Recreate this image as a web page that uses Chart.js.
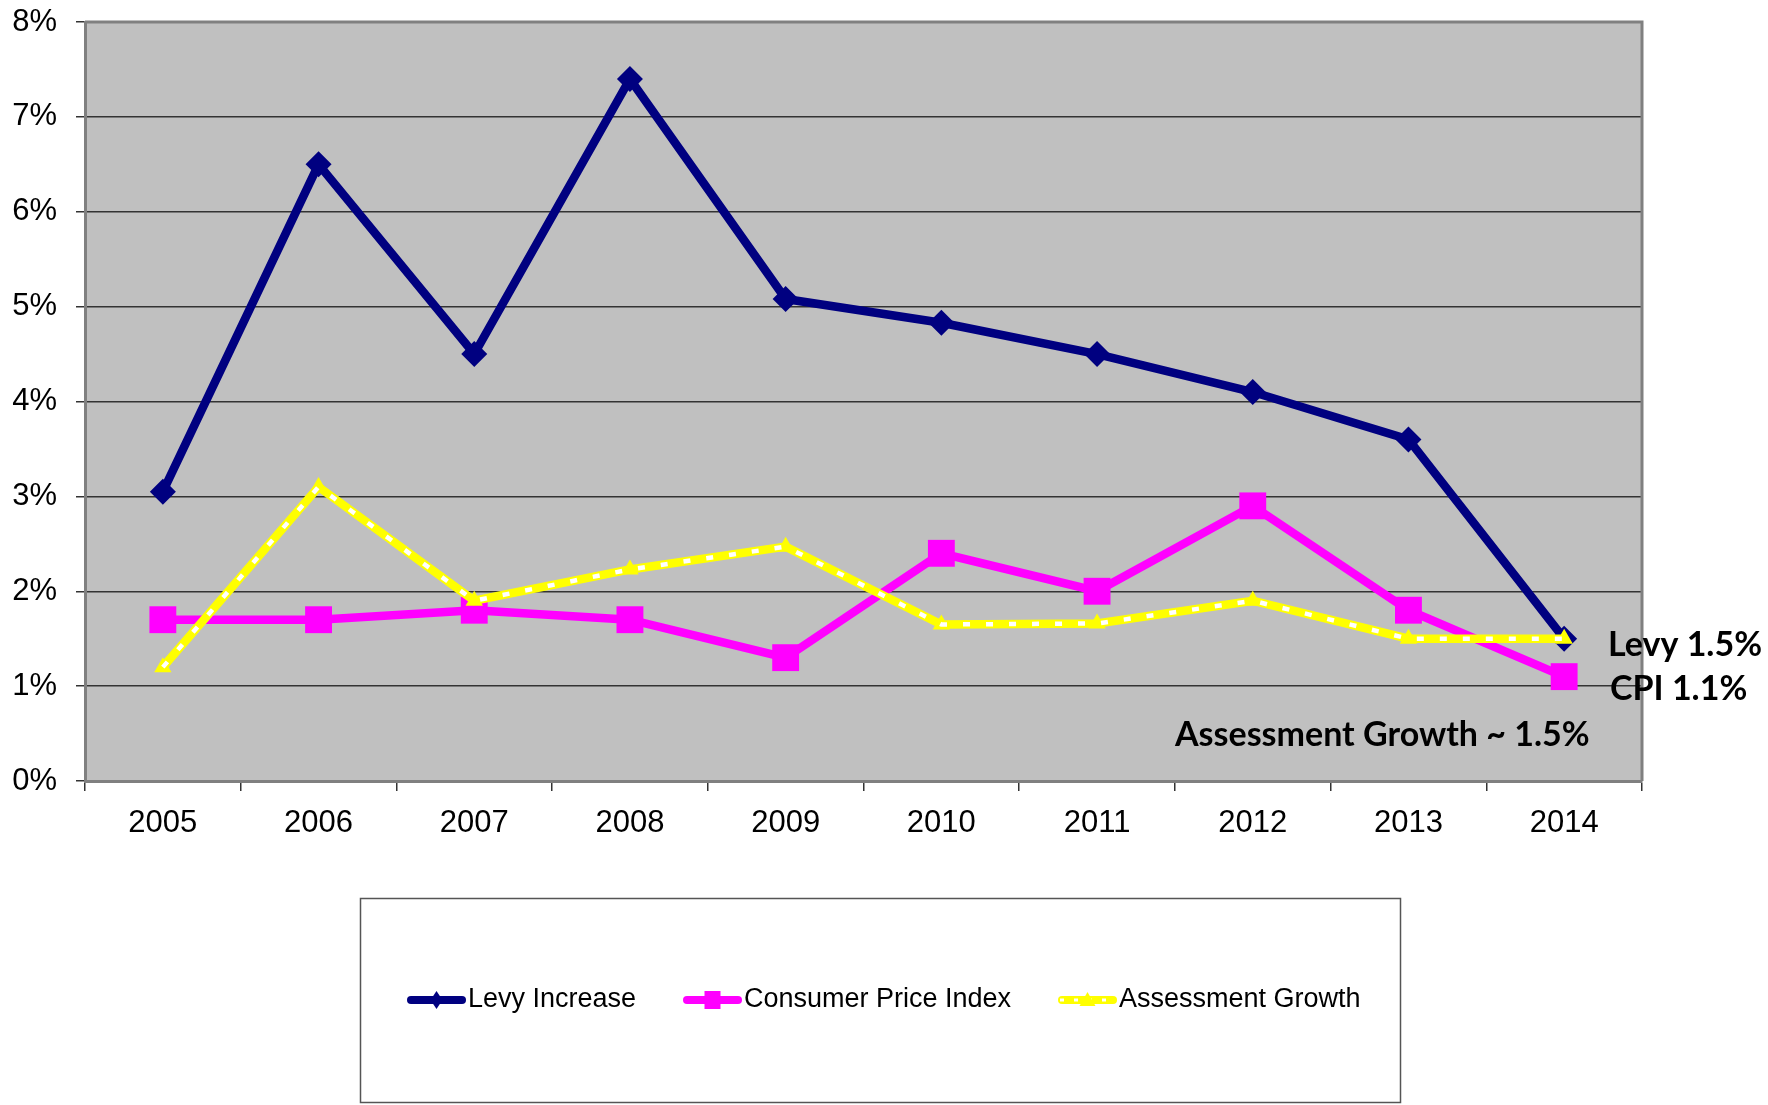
<!DOCTYPE html>
<html>
<head>
<meta charset="utf-8">
<script src="https://cdn.jsdelivr.net/npm/chart.js@4.4.1/dist/chart.umd.min.js"></script>
<style>
html,body{margin:0;padding:0;background:#fff;}
#wrap{position:relative;width:1768px;height:1105px;}
</style>
</head>
<body>
<div id="wrap"><canvas id="c"></canvas></div>
<script>
const years = ['2005','2006','2007','2008','2009','2010','2011','2012','2013','2014'];
const levyIncrease = [3.05, 6.5, 4.5, 7.4, 5.08, 4.83, 4.5, 4.1, 3.6, 1.5];
const consumerPriceIndex = [1.7, 1.7, 1.8, 1.7, 1.3, 2.4, 2.0, 2.9, 1.8, 1.1];
const assessmentGrowth = [1.2, 3.1, 1.9, 2.23, 2.47, 1.65, 1.66, 1.9, 1.5, 1.5];
const seriesNames = ['Levy Increase', 'Consumer Price Index', 'Assessment Growth'];
const annotations = ['Levy 1.5%', 'CPI 1.1%', 'Assessment Growth ~ 1.5%'];

const NAVY = '#000080', MAGENTA = '#FF00FF', YELLOW = '#FFFF00';
const AX_FONT = 'Liberation Sans, Arial, sans-serif';

const bgPlugin = {
  id: 'bg',
  beforeDraw(chart) {
    const {ctx, chartArea: a} = chart;
    ctx.save();
    ctx.fillStyle = '#C0C0C0';
    ctx.fillRect(a.left, a.top, a.right - a.left, a.bottom - a.top);
    ctx.restore();
  },
  beforeDatasetsDraw(chart) {
    const {ctx, chartArea: a} = chart;
    ctx.save();
    ctx.strokeStyle = '#808080';
    ctx.lineWidth = 3;
    ctx.beginPath();
    ctx.moveTo(a.left, a.top);
    ctx.lineTo(a.right, a.top);
    ctx.lineTo(a.right, a.bottom);
    ctx.stroke();
    ctx.restore();
  },
  afterDraw(chart) {
    const ctx = chart.ctx;
    ctx.save();
    // annotations
    ctx.fillStyle = '#000';
    ctx.font = 'bold 34px Lato, "Open Sans", sans-serif';
    ctx.textBaseline = 'middle';
    ctx.textAlign = 'left';
    ctx.fillText(annotations[0], 1608, 645);
    ctx.fillText(annotations[1], 1610, 689);
    ctx.fillText(annotations[2], 1175, 735);

    // legend box
    ctx.strokeStyle = '#555';
    ctx.lineWidth = 1.5;
    ctx.strokeRect(360.5, 898.5, 1040, 204);
    const items = [
      {x: 407, color: NAVY, marker: 'diamond', label: seriesNames[0]},
      {x: 683, color: MAGENTA, marker: 'square', label: seriesNames[1]},
      {x: 1058, color: YELLOW, marker: 'triangle', label: seriesNames[2]}
    ];
    const y = 1000;
    items.forEach(it => {
      ctx.strokeStyle = it.color;
      ctx.lineWidth = 8;
      ctx.lineCap = 'round';
      ctx.beginPath();
      ctx.moveTo(it.x + 4, y);
      ctx.lineTo(it.x + 55, y);
      ctx.stroke();
      if (it.marker === 'triangle') {
        ctx.strokeStyle = '#fff';
        ctx.lineWidth = 3;
        ctx.lineCap = 'butt';
        ctx.setLineDash([4, 10]);
        ctx.beginPath();
        ctx.moveTo(it.x + 2, y);
        ctx.lineTo(it.x + 57, y);
        ctx.stroke();
        ctx.setLineDash([]);
      }
      const cx = it.x + 29.5;
      ctx.fillStyle = it.color;
      ctx.beginPath();
      if (it.marker === 'diamond') {
        ctx.moveTo(cx, y - 9); ctx.lineTo(cx + 6, y); ctx.lineTo(cx, y + 9); ctx.lineTo(cx - 6, y);
      } else if (it.marker === 'square') {
        ctx.rect(cx - 8, y - 9, 16, 18);
      } else {
        ctx.moveTo(cx, y - 8); ctx.lineTo(cx + 8, y + 6); ctx.lineTo(cx - 8, y + 6);
      }
      ctx.closePath();
      ctx.fill();
      ctx.fillStyle = '#000';
      ctx.font = '27px ' + AX_FONT;
      ctx.textBaseline = 'middle';
      ctx.fillText(it.label, it.x + 61, y);
    });
    ctx.restore();
  }
};

new Chart(document.getElementById('c'), {
  type: 'line',
  data: {
    labels: years,
    datasets: [
      {
        label: seriesNames[0], data: levyIncrease, order: 3,
        borderColor: NAVY, backgroundColor: NAVY, borderWidth: 8.5,
        pointStyle: 'rectRot', pointRadius: 13, pointBorderWidth: 0,
        pointBackgroundColor: NAVY, tension: 0, borderJoinStyle: 'miter'
      },
      {
        label: seriesNames[1], data: consumerPriceIndex, order: 2,
        borderColor: MAGENTA, backgroundColor: MAGENTA, borderWidth: 8.5,
        pointStyle: 'rect', pointRadius: 19, pointBorderWidth: 0,
        pointBackgroundColor: MAGENTA, tension: 0
      },
      {
        label: seriesNames[2], data: assessmentGrowth, order: 1,
        borderColor: YELLOW, backgroundColor: YELLOW, borderWidth: 8.5,
        pointStyle: 'triangle', pointRadius: 10, pointBorderWidth: 0,
        pointBackgroundColor: YELLOW, tension: 0
      },
      {
        label: seriesNames[2] + ' dots', data: assessmentGrowth, order: 0,
        borderColor: '#FFFFFF', borderWidth: 4.5, borderDash: [7, 16],
        pointRadius: 0, tension: 0
      }
    ]
  },
  options: {
    responsive: true,
    maintainAspectRatio: false,
    animation: false,
    layout: {padding: {top: 22, right: 126, left: 0, bottom: 0}},
    plugins: {legend: {display: false}, tooltip: {enabled: false}},
    scales: {
      x: {
        offset: true,
        grid: {offset: true, drawOnChartArea: false, drawTicks: true, tickLength: 10, color: '#333', lineWidth: 1.5},
        border: {color: '#808080', width: 3},
        ticks: {color: '#000', font: {family: AX_FONT, size: 31}, padding: 14, maxRotation: 0, autoSkip: false},
        afterFit(scale) { scale.height = 324; scale.paddingLeft = 0; scale.paddingRight = 0; }
      },
      y: {
        min: 0, max: 8,
        grid: {color: '#333', lineWidth: 1.5, tickLength: 9},
        border: {color: '#808080', width: 3},
        ticks: {stepSize: 1, color: '#000', font: {family: AX_FONT, size: 31}, padding: 19,
          callback: v => v + '%'},
        afterFit(scale) { scale.width = 85; scale.paddingTop = 0; scale.paddingBottom = 0; }
      }
    }
  },
  plugins: [bgPlugin]
});
</script>
</body>
</html>
